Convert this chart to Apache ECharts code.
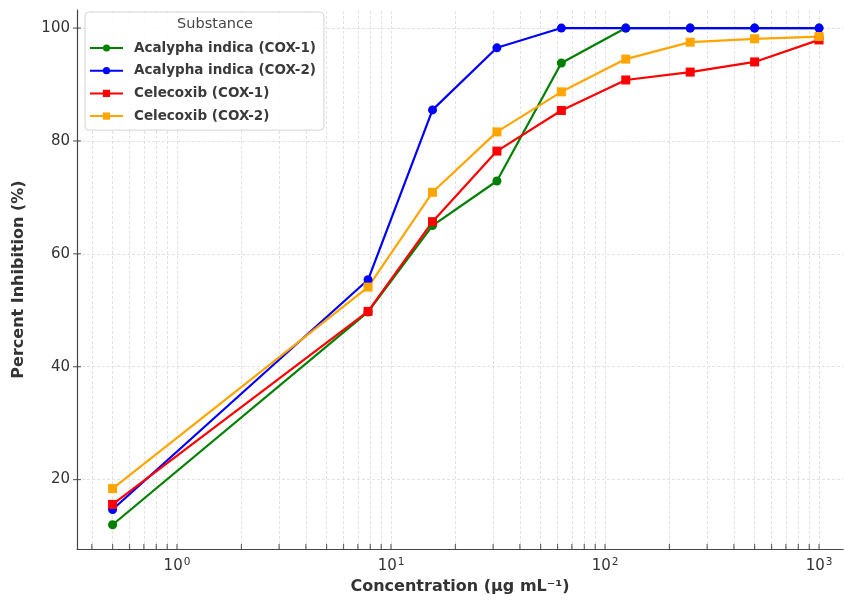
<!DOCTYPE html>
<html>
<head>
<meta charset="utf-8">
<script src="https://cdn.jsdelivr.net/npm/echarts@6/dist/echarts.min.js"></script>
<style>
  html, body { margin: 0; padding: 0; background: #fff; }
  #chart { width: 844px; height: 600px; }
</style>
</head>
<body>
<div id="chart"></div>
<script>
// concentrations (ug/mL)
var concentrations = [0.5, 7.81, 15.63, 31.25, 62.5, 125, 250, 500, 1000];

// percent inhibition
var acalyphaCox1 = [12.0, 49.7, 65.0, 72.9, 93.8, 100, 100, 100, 100];
var acalyphaCox2 = [14.7, 55.4, 85.5, 96.5, 100, 100, 100, 100, 100];
var celecoxibCox1 = [15.6, 49.8, 65.7, 78.2, 85.4, 90.8, 92.2, 94.0, 97.9];
var celecoxibCox2 = [18.4, 54.1, 70.9, 81.6, 88.7, 94.5, 97.5, 98.1, 98.5];

var seriesNames = ["Acalypha indica (COX-1)", "Acalypha indica (COX-2)", "Celecoxib (COX-1)", "Celecoxib (COX-2)"];

// tick / grid positions
var xMajorTicks = [1, 10, 100, 1000];
var xMinorTicks = [0.4, 0.5, 0.6, 0.7, 0.8, 0.9,
  2, 3, 4, 5, 6, 7, 8, 9,
  20, 30, 40, 50, 60, 70, 80, 90,
  200, 300, 400, 500, 600, 700, 800, 900];
var yTicks = [20, 40, 60, 80, 100];

var xMin = 0.341, xMax = 1294;
var yMin = 7.7, yMax = 103.2;

function pairs(ys) {
  return concentrations.map(function (x, i) { return [x, ys[i]]; });
}

function lineSeries(name, data, color, symbol) {
  return {
    name: name,
    type: "line",
    data: pairs(data),
    symbol: symbol,
    symbolSize: 9,
    itemStyle: { color: color },
    lineStyle: { color: color, width: 2.2 },
    z: 3
  };
}

var gridStyle = { color: "#dadada", width: 0.8, type: [3, 2] };

var xGridLines = xMajorTicks.concat(xMinorTicks).map(function (v) { return { xAxis: v }; });
var yGridLines = yTicks.map(function (v) { return { yAxis: v }; });

var chart = echarts.init(document.getElementById("chart"));

chart.setOption({
  animation: false,
  backgroundColor: "#fff",
  textStyle: { fontFamily: "DejaVu Sans" },
  grid: { left: 77, top: 10, width: 766, bottom: 48 },
  graphic: [{
    type: "text",
    x: 215,
    y: 24,
    z: 20,
    style: {
      text: "Substance",
      fill: "#444",
      font: "14.5px DejaVu Sans",
      textAlign: "center",
      textVerticalAlign: "middle"
    }
  }],
  legend: {
    data: seriesNames,
    orient: "vertical",
    left: 85,
    top: 12,
    z: 10,
    padding: [29, 8, 7, 4],
    itemWidth: 33,
    itemHeight: 9,
    itemGap: 8.7,
    backgroundColor: "rgba(255,255,255,0.9)",
    borderColor: "#d4d4d4",
    borderWidth: 1,
    borderRadius: 4,
    textStyle: { color: "#3a3a3a", fontWeight: "bold", fontSize: 13.5, fontFamily: "DejaVu Sans", padding: [0, 0, 0, 6] }
  },
  xAxis: {
    type: "log",
    logBase: 10,
    min: xMin,
    max: xMax,
    name: "Concentration (\u03bcg mL\u207b\u00b9)",
    nameLocation: "middle",
    nameGap: 30,
    nameTextStyle: { color: "#333", fontWeight: "bold", fontSize: 16, fontFamily: "DejaVu Sans" },
    axisLine: { lineStyle: { color: "#444", width: 1.2 } },
    axisTick: { show: false },
    splitLine: { show: false },
    axisLabel: {
      showMinLabel: false,
      showMaxLabel: false,
      margin: 8,
      color: "#333",
      fontSize: 15,
      fontFamily: "DejaVu Sans",
      formatter: function (v) {
        var e = Math.round(Math.log10(v));
        if (Math.abs(Math.log10(v) - e) > 1e-6) return "";
        return "{b|10}{s|" + e + "}";
      },
      rich: {
        b: { fontSize: 15, color: "#333", fontFamily: "DejaVu Sans" },
        s: { fontSize: 10.5, color: "#333", fontFamily: "DejaVu Sans", verticalAlign: "top", padding: [0, 0, 8, 1] }
      }
    }
  },
  yAxis: {
    type: "value",
    min: yMin,
    max: yMax,
    name: "Percent Inhibition (%)",
    nameLocation: "middle",
    nameGap: 50,
    nameTextStyle: { color: "#333", fontWeight: "bold", fontSize: 16, fontFamily: "DejaVu Sans" },
    axisLine: { show: true, lineStyle: { color: "#444", width: 1.2 } },
    axisTick: { show: false },
    splitLine: { show: false },
    axisLabel: {
      showMinLabel: false,
      showMaxLabel: false,
      margin: 7,
      color: "#333",
      fontSize: 15,
      fontFamily: "DejaVu Sans"
    }
  },
  series: [
    {
      name: "grid",
      type: "scatter",
      silent: true,
      clip: false,
      symbol: "rect",
      symbolSize: [1.2, 5],
      symbolOffset: [0, -2.5],
      itemStyle: { color: "#444" },
      data: xMajorTicks.concat(xMinorTicks).map(function (v) { return [v, yMin]; }),
      markLine: {
        z: 0,
        silent: true,
        symbol: "none",
        label: { show: false },
        lineStyle: gridStyle,
        data: xGridLines.concat(yGridLines)
      },
      z: 1
    },
    {
      name: "yticks",
      type: "scatter",
      silent: true,
      clip: false,
      symbol: "rect",
      symbolSize: [8, 1.2],
      itemStyle: { color: "#444" },
      data: yTicks.map(function (v) { return [xMin, v]; }),
      z: 1
    },
    lineSeries(seriesNames[0], acalyphaCox1, "#008000", "circle"),
    lineSeries(seriesNames[1], acalyphaCox2, "#0000ff", "circle"),
    lineSeries(seriesNames[2], celecoxibCox1, "#ff0000", "rect"),
    lineSeries(seriesNames[3], celecoxibCox2, "#ffa500", "rect")
  ]
});
</script>
</body>
</html>
